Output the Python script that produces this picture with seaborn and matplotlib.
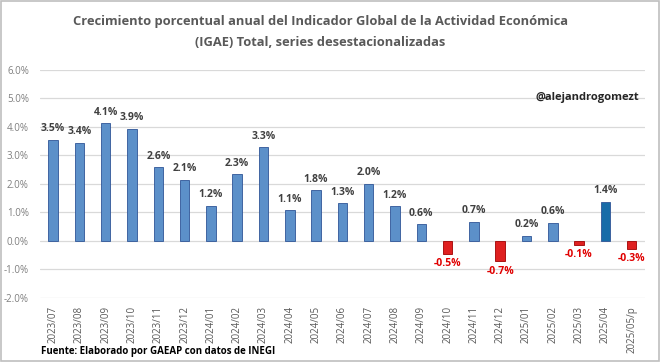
import numpy as np
import pandas as pd
import matplotlib
matplotlib.use("Agg")
import matplotlib.pyplot as plt
import seaborn as sns
from matplotlib.patches import Rectangle

# data
months = ["2023/07", "2023/08", "2023/09", "2023/10", "2023/11", "2023/12",
          "2024/01", "2024/02", "2024/03", "2024/04", "2024/05", "2024/06",
          "2024/07", "2024/08", "2024/09", "2024/10", "2024/11", "2024/12",
          "2025/01", "2025/02", "2025/03", "2025/04", "2025/05/p"]
growth = [3.55, 3.45, 4.13, 3.93, 2.58, 2.14, 1.23, 2.33, 3.28, 1.08, 1.77, 1.32,
          2.00, 1.21, 0.58, -0.45, 0.68, -0.72, 0.18, 0.63, -0.15, 1.38, -0.28]
labels = ["3.5%", "3.4%", "4.1%", "3.9%", "2.6%", "2.1%", "1.2%", "2.3%", "3.3%",
          "1.1%", "1.8%", "1.3%", "2.0%", "1.2%", "0.6%", "-0.5%", "0.7%", "-0.7%",
          "0.2%", "0.6%", "-0.1%", "1.4%", "-0.3%"]
highlight = "2025/04"

df = pd.DataFrame({"mes": months, "valor": growth})

colors = []
for m, v in zip(months, growth):
    if v < 0:
        colors.append("#FF0000")
    elif m == highlight:
        colors.append("#0070C0")
    else:
        colors.append("#4A8FDB")

sns.set_style("white")
plt.rcParams['font.family'] = ['Open Sans', 'DejaVu Sans']

fig = plt.figure(figsize=(6.6, 3.62), dpi=100)
ax = fig.add_axes([0.0606, 0.177, 0.9164, 0.63])

sns.barplot(data=df, x="mes", y="valor", hue="mes", palette=colors, legend=False,
            width=0.36, ax=ax, edgecolor="#2F5597", linewidth=0.6)
for p, v in zip(ax.patches, growth):
    if v < 0:
        p.set_edgecolor("#A00000")

ax.set_ylim(-2, 6)
ax.set_xlim(-0.5, len(months) - 0.5)
ax.set_yticks(np.arange(-2, 7, 1))
ax.set_yticklabels([f"{t:.1f}%" for t in np.arange(-2, 7, 1)], fontsize=7, color="#7F7F7F")
ax.tick_params(axis="x", labelrotation=90, labelsize=7, colors="#595959", length=0, pad=6)
ax.tick_params(axis="y", length=0, pad=8)
ax.set_xlabel("")
ax.set_ylabel("")
ax.grid(axis="y", color="#D9D9D9", linewidth=0.9)
ax.set_axisbelow(True)
for s in ax.spines.values():
    s.set_visible(False)

for i, (v, lab) in enumerate(zip(growth, labels)):
    if v >= 0:
        ax.annotate(lab, (i, v), xytext=(0, 4), textcoords="offset points",
                    ha="center", va="bottom", fontsize=7.5, fontweight="bold", color="#404040")
    else:
        ax.annotate(lab, (i, v), xytext=(0, -3), textcoords="offset points",
                    ha="center", va="top", fontsize=7.5, fontweight="bold", color="#E00000")

fig.text(0.485, 0.912, "Crecimiento porcentual anual del Indicador Global de la Actividad Económica\n"
         "(IGAE) Total, series desestacionalizadas", ha="center", va="center",
         fontsize=9.3, fontweight="bold", color="#595959", linespacing=1.75)
fig.text(0.968, 0.73, "@alejandrogomezt", ha="right", va="center", fontsize=8,
         fontweight="bold", color="#262626")
fig.text(0.062, 0.028, "Fuente: Elaborado por GAEAP con datos de INEGI", ha="left", va="center",
         fontsize=7, fontweight="bold", color="#000000")

fig.patches.append(Rectangle((0.002, 0.003), 0.996, 0.994, transform=fig.transFigure,
                             fill=False, edgecolor="#BFBFBF", linewidth=1.2))

fig.savefig("out.png", dpi=100)
